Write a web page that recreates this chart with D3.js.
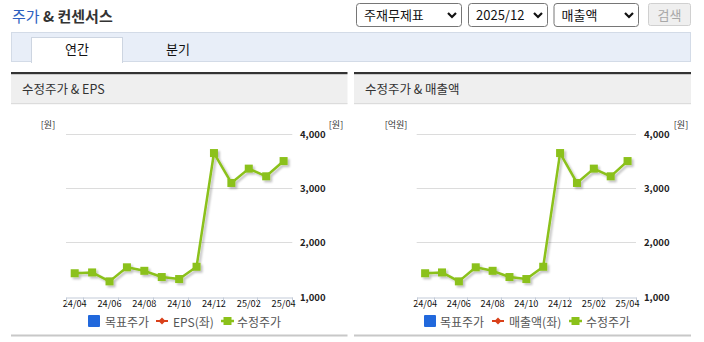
<!DOCTYPE html>
<html><head><meta charset="utf-8">
<script src="https://cdn.jsdelivr.net/npm/d3@7"></script>
<style>
html,body{margin:0;padding:0;background:#fff;}
svg{display:block;font-family:"Noto Sans CJK KR","Noto Sans",sans-serif;}
</style></head>
<body>
<svg id="c" width="704" height="342"></svg>
<script>
const months = ["24/04","24/05","24/06","24/07","24/08","24/09","24/10","24/11","24/12","25/01","25/02","25/03","25/04"];
const adjPrice = [1430,1445,1280,1540,1475,1360,1323,1550,3653,3100,3365,3223,3505];
const targetPrice = [];
const leftSeries = [];
const yTicks = [1000,2000,3000,4000];
const xLabels = ["24/04","24/06","24/08","24/10","24/12","25/02","25/04"];
const selects = ["주재무제표","2025/12","매출액"];
const tabs = ["연간","분기"];
const panels = [
  {title:"수정주가 & EPS", leftUnit:"[원]", rightUnit:"[원]", legend:["목표주가","EPS(좌)","수정주가"]},
  {title:"수정주가 & 매출액", leftUnit:"[억원]", rightUnit:"[원]", legend:["목표주가","매출액(좌)","수정주가"]}
];

const svg = d3.select("#c");
const defs = svg.append("defs");
const f = defs.append("filter").attr("id","sh").attr("x","-20%").attr("y","-20%").attr("width","140%").attr("height","140%");
f.append("feGaussianBlur").attr("in","SourceAlpha").attr("stdDeviation",1.2).attr("result","b");
f.append("feOffset").attr("in","b").attr("dx",1.5).attr("dy",2).attr("result","o");
f.append("feComponentTransfer").attr("in","o").attr("result","o2").append("feFuncA").attr("type","linear").attr("slope",0.25);
const m = f.append("feMerge"); m.append("feMergeNode").attr("in","o2"); m.append("feMergeNode").attr("in","SourceGraphic");

// Title
const t = svg.append("text").attr("x",12).attr("y",22).attr("font-size",15);
t.append("tspan").attr("fill","#2d5fc0").text("주가");
t.append("tspan").attr("fill","#333").attr("font-weight","bold").text(" & 컨센서스");

// Selects
const selBoxes = [[356,461],[468,547],[553.5,638]];
selects.forEach((s,i)=>{
  const [x0,x1] = selBoxes[i];
  svg.append("rect").attr("x",x0+0.5).attr("y",3.5).attr("width",x1-x0).attr("height",23).attr("rx",3)
    .attr("fill","#fff").attr("stroke","#767676");
  svg.append("text").attr("x",x0+8).attr("y",20).attr("font-size",13).attr("fill","#111").text(s);
  const cx = x1-9;
  svg.append("path").attr("d",`M${cx-4},${13} L${cx},${17} L${cx+4},${13}`).attr("fill","none").attr("stroke","#111").attr("stroke-width",2.2);
});
svg.append("rect").attr("x",648.5).attr("y",3.5).attr("width",42).attr("height",22).attr("rx",2).attr("fill","#efefef").attr("stroke","#d0d0d0");
svg.append("text").attr("x",669.5).attr("y",19.5).attr("text-anchor","middle").attr("font-size",13).attr("fill","#a8a8a8").text("검색");

// Tab bar
svg.append("rect").attr("x",11.5).attr("y",32.5).attr("width",679).attr("height",29).attr("fill","#e8eef8").attr("stroke","#d3dbe7");
svg.append("rect").attr("x",31.5).attr("y",37.5).attr("width",91).attr("height",25).attr("fill","#fff").attr("stroke","#cdd5e1");
svg.append("rect").attr("x",32).attr("y",61).attr("width",90).attr("height",2).attr("fill","#fff");
svg.append("text").attr("x",77).attr("y",54).attr("text-anchor","middle").attr("font-size",13).attr("fill","#111").text(tabs[0]);
svg.append("text").attr("x",178).attr("y",54).attr("text-anchor","middle").attr("font-size",13).attr("fill","#111").text(tabs[1]);

// Panels
const pgeom = [
  {x0:11, x1:347.5, px0:66, px1:292.3, lu:48, ru:336, yl:300, leg:[88,105,156,173,221,237]},
  {x0:354, x1:691, px0:416.7, px1:636, lu:396, ru:681, yl:644, leg:[424,440,492,509,569,586]}
];
const y = d3.scaleLinear().domain([1000,4000]).range([296.5,134.3]);
const green = "#8bc11a";

panels.forEach((p,i)=>{
  const g = pgeom[i];
  const G = svg.append("g");
  G.append("rect").attr("x",g.x0).attr("y",74).attr("width",g.x1-g.x0).attr("height",29.5).attr("fill","#efefef");
  G.append("rect").attr("x",g.x0).attr("y",72).attr("width",g.x1-g.x0).attr("height",2.2).attr("fill","#333");
  G.append("rect").attr("x",g.x0).attr("y",103).attr("width",g.x1-g.x0).attr("height",1.2).attr("fill","#dcdcdc");
  G.append("text").attr("x",g.x0+11).attr("y",94).attr("font-size",12.5).attr("fill","#333").text(p.title);
  G.append("rect").attr("x",g.x0).attr("y",334.5).attr("width",g.x1-g.x0).attr("height",2).attr("fill","#c8c8c8");

  // units
  G.append("text").attr("x",g.lu).attr("y",128).attr("text-anchor","middle").attr("font-size",9).attr("fill","#333").text(p.leftUnit);
  G.append("text").attr("x",g.ru).attr("y",128).attr("text-anchor","middle").attr("font-size",9).attr("fill","#333").text(p.rightUnit);

  const x = d3.scaleBand().domain(months).range([g.px0,g.px1]).padding(0);

  // grid
  G.append("g").selectAll("line").data(yTicks.filter(d=>d>1000)).join("line")
    .attr("x1",g.px0).attr("x2",g.px1).attr("y1",d=>Math.round(y(d))+0.5).attr("y2",d=>Math.round(y(d))+0.5)
    .attr("stroke","#dcdcdc").attr("stroke-width",1);
  // right axis labels
  G.append("g").selectAll("text").data(yTicks).join("text")
    .attr("x",g.yl).attr("y",d=>y(d)+4).attr("font-size",9.5).attr("font-weight","bold").attr("fill","#222")
    .text(d=>d3.format(",")(d));

  // x axis
  const ax = d3.axisBottom(x).tickValues(xLabels).tickSize(0).tickPadding(2);
  const axG = G.append("g").attr("transform",`translate(0,${Math.round(y(1000))+0.5})`).call(ax);
  axG.select(".domain").attr("stroke","#c3cbd8");
  axG.selectAll("text").attr("font-size",9.2).attr("fill","#111").attr("font-family","'Noto Sans CJK KR',sans-serif").attr("dy","0.78em");
  const tickPos = [g.px0].concat(xLabels.map(d=>x(d)+x.bandwidth()));
  axG.selectAll("line.tk").data(tickPos).join("line").attr("class","tk")
    .attr("x1",d=>Math.round(d)+0.5).attr("x2",d=>Math.round(d)+0.5).attr("y1",0).attr("y2",6).attr("stroke","#c3cbd8");

  // line
  const cx = d=>x(d)+x.bandwidth()/2;
  const line = d3.line().x((d,j)=>cx(months[j])).y(d=>y(d));
  const lg = G.append("g").attr("filter","url(#sh)");
  lg.append("path").datum(adjPrice).attr("d",line).attr("fill","none").attr("stroke",green).attr("stroke-width",2.5).attr("stroke-linejoin","round");
  lg.selectAll("rect").data(adjPrice).join("rect")
    .attr("x",(d,j)=>cx(months[j])-4).attr("y",d=>y(d)-4).attr("width",8).attr("height",8).attr("fill",green);

  // legend
  const [b0,t0,r0,t1,g0,t2] = g.leg;
  const L = G.append("g").attr("font-size",12).attr("fill","#555");
  L.append("rect").attr("x",b0).attr("y",315).attr("width",12).attr("height",12).attr("rx",1).attr("fill","#2168dc");
  L.append("text").attr("x",t0).attr("y",326.5).text(p.legend[0]);
  L.append("line").attr("x1",r0).attr("x2",r0+12).attr("y1",321).attr("y2",321).attr("stroke","#d9401a").attr("stroke-width",2);
  L.append("path").attr("d",`M${r0+6},${317.5} L${r0+9.5},${321} L${r0+6},${324.5} L${r0+2.5},${321}Z`).attr("fill","#d9401a");
  L.append("text").attr("x",t1).attr("y",326.5).text(p.legend[1]);
  L.append("line").attr("x1",g0).attr("x2",g0+13).attr("y1",321).attr("y2",321).attr("stroke",green).attr("stroke-width",2.5);
  L.append("rect").attr("x",g0+2.5).attr("y",317).attr("width",8).attr("height",8).attr("fill",green);
  L.append("text").attr("x",t2).attr("y",326.5).text(p.legend[2]);
});
</script>
</body></html>
